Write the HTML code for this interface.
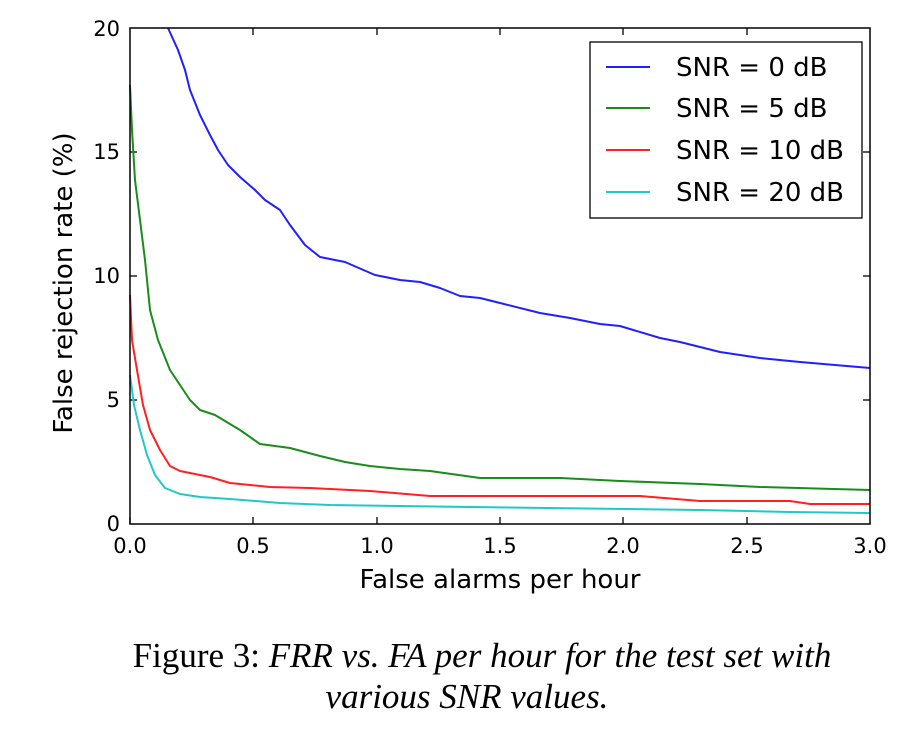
<!DOCTYPE html>
<html><head><meta charset="utf-8"><style>
html,body{margin:0;padding:0;background:#fff;width:916px;height:742px;overflow:hidden}
svg{display:block}
</style></head><body>
<svg width="916" height="742" viewBox="0 0 916 742" xmlns="http://www.w3.org/2000/svg">
<g font-family="DejaVu Sans, Liberation Sans, sans-serif" font-size="21" fill="#000">
<g stroke="#000" stroke-width="1.3">
<line x1="130" y1="524" x2="130" y2="517"/><line x1="253" y1="524" x2="253" y2="517"/><line x1="377" y1="524" x2="377" y2="517"/><line x1="500" y1="524" x2="500" y2="517"/><line x1="623" y1="524" x2="623" y2="517"/><line x1="747" y1="524" x2="747" y2="517"/>
<line x1="253" y1="28" x2="253" y2="35"/><line x1="377" y1="28" x2="377" y2="35"/><line x1="500" y1="28" x2="500" y2="35"/><line x1="623" y1="28" x2="623" y2="35"/><line x1="747" y1="28" x2="747" y2="35"/>
<line x1="130" y1="400" x2="137" y2="400"/><line x1="130" y1="276" x2="137" y2="276"/><line x1="130" y1="152" x2="137" y2="152"/>
<line x1="870" y1="400" x2="863" y2="400"/><line x1="870" y1="276" x2="863" y2="276"/><line x1="870" y1="152" x2="863" y2="152"/>
</g>
<g text-anchor="middle">
<text x="130" y="553">0.0</text><text x="253" y="553">0.5</text><text x="377" y="553">1.0</text><text x="500" y="553">1.5</text><text x="623" y="553">2.0</text><text x="747" y="553">2.5</text><text x="870" y="553">3.0</text>
</g>
<g text-anchor="end">
<text x="120" y="531">0</text><text x="120" y="407">5</text><text x="120" y="283">10</text><text x="120" y="159">15</text><text x="120" y="36">20</text>
</g>
<text x="500" y="588" text-anchor="middle" font-size="26">False alarms per hour</text>
<text transform="translate(72,283) rotate(-90)" text-anchor="middle" font-size="26">False rejection rate (%)</text>
</g>
<g fill="none" stroke-width="2" stroke-linejoin="round">
<polyline stroke="#2020ff" points="168,28 178,50 185,70 190,90 200,115 210,135 218,150 228,165 240,177 255,190 265,200 280,210 290,225 305,245 320,257 345,262 375,275 400,280 420,282 440,288 460,296 480,298 500,303 540,313 570,318 600,324 620,326 660,338 680,342 720,352 760,358 800,362 870,368"/>
<polyline stroke="#1a8c1a" points="130,85 132,130 135,180 140,220 145,260 150,310 158,340 170,370 180,385 190,400 200,410 215,415 240,430 260,444 290,448 320,456 345,462 370,466 400,469 430,471 480,478 560,478 620,481 700,484 760,487 870,490"/>
<polyline stroke="#ff2020" points="130,295 132,340 137,370 143,405 150,430 160,450 170,466 180,471 210,477 230,483 270,487 310,488 370,491 430,496 640,496 700,501 790,501 810,504 870,504"/>
<polyline stroke="#20c8c8" points="130,375 134,405 140,430 147,455 155,475 165,488 180,494 200,497 230,499 280,503 330,505 470,507 700,510 790,512 870,513"/>
</g>
<rect x="130" y="28" width="740" height="496" fill="none" stroke="#000" stroke-width="1.5"/>
<rect x="590" y="42" width="272" height="176" fill="#fff" stroke="#000" stroke-width="1.3"/>
<g stroke-width="2">
<line x1="606" y1="67" x2="650" y2="67" stroke="#2020ff"/>
<line x1="606" y1="108" x2="650" y2="108" stroke="#1a8c1a"/>
<line x1="606" y1="150" x2="650" y2="150" stroke="#ff2020"/>
<line x1="606" y1="192" x2="650" y2="192" stroke="#20c8c8"/>
</g>
<g font-family="DejaVu Sans, Liberation Sans, sans-serif" font-size="26" fill="#000">
<text x="676" y="76">SNR = 0 dB</text>
<text x="676" y="117">SNR = 5 dB</text>
<text x="676" y="159">SNR = 10 dB</text>
<text x="676" y="201">SNR = 20 dB</text>
</g>
<g font-family="Liberation Serif, serif" font-size="35" fill="#000" text-anchor="middle">
<text x="482" y="667">Figure 3: <tspan font-style="italic">FRR vs. FA per hour for the test set with</tspan></text>
<text x="467" y="708" font-style="italic">various SNR values.</text>
</g>
</svg>
</body></html>
